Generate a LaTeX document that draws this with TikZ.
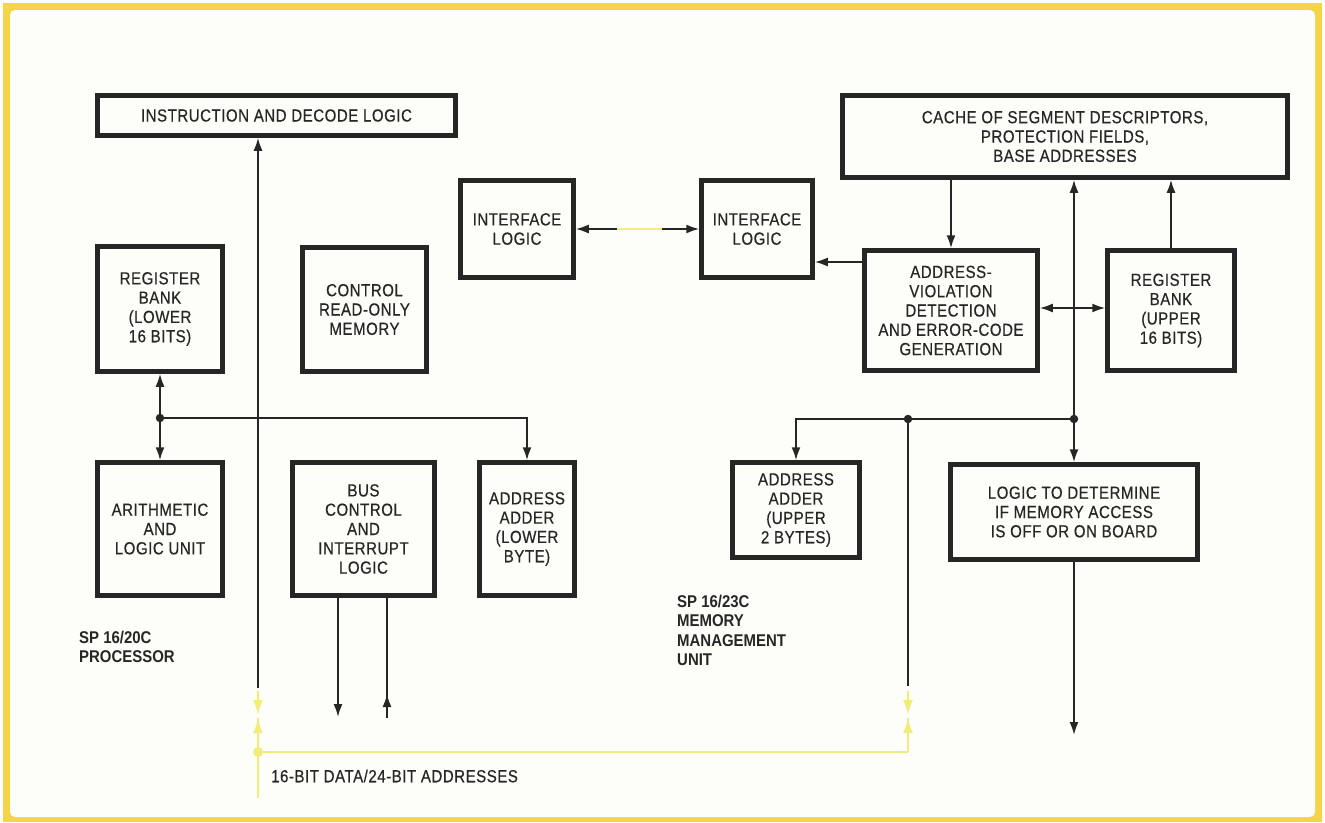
\documentclass[tikz,border=0pt]{standalone}
\usepackage{fontspec}
\setmainfont{Liberation Sans}[FakeStretch=0.86, LetterSpace=3, FakeBold=0.4]
\newfontfamily\labfont{Liberation Sans}[FakeStretch=0.88]
\usetikzlibrary{arrows.meta}
\definecolor{paper}{RGB}{253,253,250}
\definecolor{frameY}{RGB}{244,212,72}
\definecolor{busY}{RGB}{242,236,125}
\definecolor{ink}{RGB}{38,38,38}
\tikzset{
  blk/.style={draw=ink, line width=4.5pt, fill=paper, align=center, inner sep=0pt,
    text=ink, font=\fontsize{17.5}{19.3}\selectfont},
  lab/.style={anchor=north west, align=left, inner sep=0pt, text=ink,
    font=\labfont\fontsize{17}{19.3}\selectfont\bfseries},
  con/.style={draw=ink, line width=1.9pt},
  tip/.style={-{Latex[length=13pt,width=9pt]}},
  tips/.style={{Latex[length=13pt,width=9pt]}-{Latex[length=13pt,width=9pt]}},
  ybus/.style={draw=busY, line width=2.4pt},
  ytip/.style={-{Latex[length=15pt,width=10pt]}},
  dot/.style={circle, fill=ink, inner sep=0pt, minimum size=8.5pt},
  ydot/.style={circle, fill=busY, inner sep=0pt, minimum size=10pt}
}
\begin{document}
\begin{tikzpicture}[x=1pt,y=-1pt]
\useasboundingbox (0,0) rectangle (1325,822);
\fill[paper] (0,0) rectangle (1325,822);
\fill[frameY] (3,3) rectangle (1322,822);
\fill[paper, rounded corners=5pt] (10,10) rectangle (1315,817);

% ---- processor side ----
\node[blk, minimum width=358pt, minimum height=40pt] (instr) at (276.5,115.5) {INSTRUCTION AND DECODE LOGIC};
\node[blk, minimum width=125pt, minimum height=125pt] (regL) at (160,309) {REGISTER\\BANK\\(LOWER\\16 BITS)};
\node[blk, minimum width=124pt, minimum height=124pt] (crom) at (364.5,309.5) {CONTROL\\READ-ONLY\\MEMORY};
\node[blk, minimum width=125pt, minimum height=133pt] (alu) at (160,529) {ARITHMETIC\\AND\\LOGIC UNIT};
\node[blk, minimum width=142pt, minimum height=133pt] (bus) at (363.5,529) {BUS\\CONTROL\\AND\\INTERRUPT\\LOGIC};
\node[blk, minimum width=95pt, minimum height=133pt] (aaL) at (527,529) {ADDRESS\\ADDER\\(LOWER\\BYTE)};
\node[blk, minimum width=113pt, minimum height=97pt] (if1) at (517,229) {INTERFACE\\LOGIC};

% ---- MMU side ----
\node[blk, minimum width=111pt, minimum height=97pt] (if2) at (757,229) {INTERFACE\\LOGIC};
\node[blk, minimum width=445pt, minimum height=82pt] (cache) at (1065,136.5) {CACHE OF SEGMENT DESCRIPTORS,\\PROTECTION FIELDS,\\BASE ADDRESSES};
\node[blk, minimum width=173pt, minimum height=120pt] (avd) at (951,310.5) {ADDRESS-\\VIOLATION\\DETECTION\\AND ERROR-CODE\\GENERATION};
\node[blk, minimum width=127pt, minimum height=120pt] (regU) at (1171,310.5) {REGISTER\\BANK\\(UPPER\\16 BITS)};
\node[blk, minimum width=127pt, minimum height=95pt] (aaU) at (796,510) {ADDRESS\\ADDER\\(UPPER\\2 BYTES)};
\node[blk, minimum width=247pt, minimum height=95pt] (ltd) at (1074,512) {LOGIC TO DETERMINE\\IF MEMORY ACCESS\\IS OFF OR ON BOARD};

% ---- labels ----
\node[lab] (lp) at (79,631) {SP 16/20C\\PROCESSOR};
\node[lab] (lm) at (677,595) {SP 16/23C\\MEMORY\\MANAGEMENT\\UNIT};
\node[anchor=west, inner sep=0pt, text=ink, font=\fontsize{17.5}{19.3}\selectfont] (lb) at (271,776) {16-BIT DATA/24-BIT ADDRESSES};

% ---- coordinates ----
\coordinate (busL) at (258,688);
\coordinate (jL) at (160,418);
\coordinate (b1) at (338,717);
\coordinate (b2) at (387,718);
\coordinate (b2h) at (387,694);
\coordinate (jR) at (1074,419);
\coordinate (jM) at (908,419);
\coordinate (mEnd) at (908,686);
\coordinate (ltdEnd) at (1074,735);
\coordinate (c262) at (850,262);
\coordinate (c308) at (1070,308);
\coordinate (yg1) at (617,229);
\coordinate (yg2) at (662,229);
% yellow bus
\coordinate (yL1) at (258,691);
\coordinate (yLa) at (258,715);
\coordinate (yLb) at (258,718);
\coordinate (yJ) at (258,752);
\coordinate (yEnd) at (258,798);
\coordinate (yR) at (908,752);
\coordinate (yR1) at (908,691);
\coordinate (yRa) at (908,715);
\coordinate (yRb) at (908,718);

% ---- processor connectors ----
\draw[con, tip] (busL) -- (busL |- instr.south);
\draw[con, tip] (jL) -- (regL.south);
\draw[con, tip] (jL) -- (alu.north);
\draw[con, tip] (jL) -| (aaL.north);
\node[dot] (jLd) at (jL) {};
\draw[con, tip] (bus.south -| b1) -- (b1);
\draw[con] (bus.south -| b2) -- (b2);
\draw[con, tip] (b2) -- (b2h);

% interface link
\draw[con, tips] (if1.east) -- (if2.west);
\draw[draw=busY, line width=2.8pt] (yg1) -- (yg2);

% ---- MMU connectors ----
\draw[con, tip] (avd.west |- c262) -- (if2.east |- c262);
\draw[con, tip] (cache.south -| avd.north) -- (avd.north);
\draw[con, tip] (jR) -- (jR |- cache.south);
\draw[con, tip] (jR) -- (ltd.north);
\draw[con, tip] (jM) -| (aaU.north);
\draw[con] (jR) -- (jM);
\draw[con, tips] (avd.east |- c308) -- (regU.west |- c308);
\draw[con, tip] (regU.north) -- (regU.north |- cache.south);
\draw[con] (jM) -- (mEnd);
\draw[con, tip] (ltd.south) -- (ltdEnd);
\node[dot] (jRd) at (jR) {};
\node[dot] (jMd) at (jM) {};

% ---- yellow external bus ----
\draw[ybus] (yEnd) -- (yJ) -- (yR);
\draw[ybus] (yR) -- (yRb);
\draw[ybus] (yJ) -- (yLb);
\draw[ybus, ytip] (yL1) -- (yLa);
\draw[ybus, ytip] (yJ) -- (yLb);
\draw[ybus, ytip] (yR1) -- (yRa);
\draw[ybus, ytip] (yR) -- (yRb);
\node[ydot] (yJd) at (yJ) {};
\end{tikzpicture}
\end{document}
